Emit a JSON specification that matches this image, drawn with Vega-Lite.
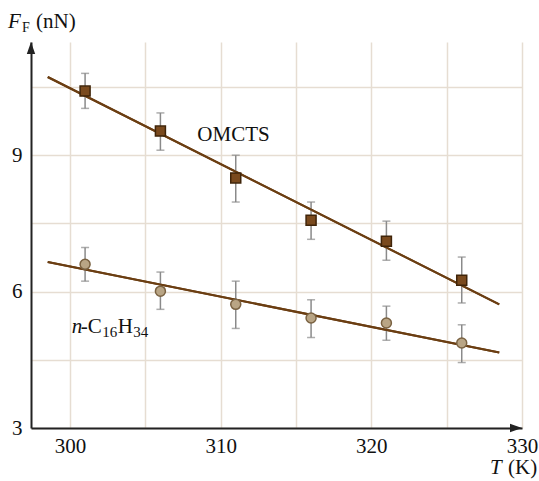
{
  "$schema": "https://vega.github.io/schema/vega-lite/v6.json",
  "width": 491,
  "height": 386,
  "autosize": {"type": "none"},
  "padding": {"left": 31, "top": 42, "right": 17, "bottom": 53},
  "background": "white",
  "config": {
    "view": {"stroke": null},
    "font": "Liberation Serif, Times New Roman, DejaVu Serif, serif",
    "text": {"font": "Liberation Serif, Times New Roman, DejaVu Serif, serif", "fontSize": 21, "color": "#111"}
  },
  "datasets": {
    "points": [
      {"series": "OMCTS", "T": 301, "F": 10.41, "lo": 10.03, "hi": 10.80},
      {"series": "OMCTS", "T": 306, "F": 9.53, "lo": 9.11, "hi": 9.93},
      {"series": "OMCTS", "T": 311, "F": 8.50, "lo": 7.97, "hi": 9.00},
      {"series": "OMCTS", "T": 316, "F": 7.57, "lo": 7.15, "hi": 7.97},
      {"series": "OMCTS", "T": 321, "F": 7.11, "lo": 6.69, "hi": 7.55},
      {"series": "OMCTS", "T": 326, "F": 6.25, "lo": 5.75, "hi": 6.76},
      {"series": "C16", "T": 301, "F": 6.60, "lo": 6.23, "hi": 6.97},
      {"series": "C16", "T": 306, "F": 6.01, "lo": 5.61, "hi": 6.43},
      {"series": "C16", "T": 311, "F": 5.72, "lo": 5.19, "hi": 6.23},
      {"series": "C16", "T": 316, "F": 5.42, "lo": 4.99, "hi": 5.82},
      {"series": "C16", "T": 321, "F": 5.31, "lo": 4.93, "hi": 5.68},
      {"series": "C16", "T": 326, "F": 4.87, "lo": 4.44, "hi": 5.27}
    ],
    "fits": [
      {"series": "OMCTS", "T": 298.52, "F": 10.72},
      {"series": "OMCTS", "T": 328.49, "F": 5.72},
      {"series": "C16", "T": 298.52, "F": 6.65},
      {"series": "C16", "T": 328.49, "F": 4.66}
    ],
    "one": [{}]
  },
  "layer": [
    {
      "data": {"name": "fits"},
      "mark": {"type": "line", "color": "#6b3e12", "strokeWidth": 2},
      "encoding": {
        "x": {
          "field": "T", "type": "quantitative",
          "scale": {"domain": [297.41, 330], "nice": false, "zero": false},
          "axis": {
            "values": [300, 305, 310, 315, 320, 325, 330],
            "labelExpr": "datum.value % 10 == 0 ? datum.label : ''",
            "title": null,
            "grid": true, "gridColor": "#e6ddd2", "gridWidth": 1.5,
            "ticks": false,
            "domainColor": "#222", "domainWidth": 2,
            "labelFont": "Liberation Serif, Times New Roman, DejaVu Serif, serif", "labelFontSize": 21, "labelColor": "#111",
            "labelPadding": 7, "labelFlush": false
          }
        },
        "y": {
          "field": "F", "type": "quantitative",
          "scale": {"domain": [3, 11.49], "nice": false, "zero": false},
          "axis": {
            "values": [3, 4.5, 6, 7.5, 9, 10.5],
            "labelExpr": "datum.value % 3 == 0 ? datum.label : ''",
            "title": null,
            "grid": true, "gridColor": "#e6ddd2", "gridWidth": 1.5,
            "ticks": false,
            "domainColor": "#222", "domainWidth": 2,
            "labelFont": "Liberation Serif, Times New Roman, DejaVu Serif, serif", "labelFontSize": 21, "labelColor": "#111",
            "labelPadding": 9, "labelFlush": false
          }
        },
        "detail": {"field": "series"}
      }
    },
    {
      "data": {"name": "points"},
      "mark": {"type": "rule", "color": "#8a8a8a", "strokeWidth": 1.5},
      "encoding": {
        "x": {"field": "T", "type": "quantitative"},
        "y": {"field": "lo", "type": "quantitative"},
        "y2": {"field": "hi"}
      }
    },
    {
      "data": {"name": "points"},
      "mark": {"type": "tick", "orient": "horizontal", "color": "#8a8a8a", "size": 8, "thickness": 1.5},
      "encoding": {
        "x": {"field": "T", "type": "quantitative"},
        "y": {"field": "lo", "type": "quantitative"}
      }
    },
    {
      "data": {"name": "points"},
      "mark": {"type": "tick", "orient": "horizontal", "color": "#8a8a8a", "size": 8, "thickness": 1.5},
      "encoding": {
        "x": {"field": "T", "type": "quantitative"},
        "y": {"field": "hi", "type": "quantitative"}
      }
    },
    {
      "data": {"name": "fits"},
      "mark": {"type": "line", "color": "#6b3e12", "strokeWidth": 2},
      "encoding": {
        "x": {"field": "T", "type": "quantitative"},
        "y": {"field": "F", "type": "quantitative"},
        "detail": {"field": "series"}
      }
    },
    {
      "data": {"name": "points"},
      "transform": [{"filter": "datum.series == 'OMCTS'"}],
      "mark": {"type": "point", "shape": "square", "filled": true, "size": 100, "color": "#7a4a1e", "stroke": "#3f2409", "strokeWidth": 1.5, "opacity": 1},
      "encoding": {
        "x": {"field": "T", "type": "quantitative"},
        "y": {"field": "F", "type": "quantitative"}
      }
    },
    {
      "data": {"name": "points"},
      "transform": [{"filter": "datum.series == 'C16'"}],
      "mark": {"type": "point", "shape": "circle", "filled": true, "size": 100, "color": "#b9a585", "stroke": "#7a6242", "strokeWidth": 1.5, "opacity": 1},
      "encoding": {
        "x": {"field": "T", "type": "quantitative"},
        "y": {"field": "F", "type": "quantitative"}
      }
    },
    {
      "data": {"name": "one"},
      "mark": {"type": "point", "shape": "M0,0L-0.35,1L0.35,1Z", "filled": true, "size": 576, "color": "#222", "opacity": 1},
      "encoding": {
        "x": {"datum": 297.41, "type": "quantitative"},
        "y": {"datum": 11.49, "type": "quantitative"}
      }
    },
    {
      "data": {"name": "one"},
      "mark": {"type": "point", "shape": "M0,0L-1,-0.35L-1,0.35Z", "filled": true, "size": 576, "color": "#222", "opacity": 1},
      "encoding": {
        "x": {"datum": 330, "type": "quantitative"},
        "y": {"datum": 3, "type": "quantitative"}
      }
    },
    {
      "data": {"name": "one"},
      "mark": {"type": "text", "align": "left", "baseline": "alphabetic", "fontSize": 21},
      "encoding": {
        "x": {"datum": 308.45, "type": "quantitative"},
        "y": {"datum": 9.315, "type": "quantitative"},
        "text": {"value": "OMCTS"}
      }
    },
    {
      "data": {"name": "one"},
      "mark": {"type": "text", "align": "left", "baseline": "alphabetic", "fontSize": 21, "fontStyle": "italic"},
      "encoding": {
        "x": {"datum": 300.11, "type": "quantitative"},
        "y": {"datum": 5.10, "type": "quantitative"},
        "text": {"value": "n"}
      }
    },
    {
      "data": {"name": "one"},
      "mark": {"type": "text", "align": "left", "baseline": "alphabetic", "fontSize": 21, "dx": 9},
      "encoding": {
        "x": {"datum": 300.11, "type": "quantitative"},
        "y": {"datum": 5.10, "type": "quantitative"},
        "text": {"value": "-C"}
      }
    },
    {
      "data": {"name": "one"},
      "mark": {"type": "text", "align": "left", "baseline": "alphabetic", "fontSize": 15, "dx": 30.5, "dy": 4},
      "encoding": {
        "x": {"datum": 300.11, "type": "quantitative"},
        "y": {"datum": 5.10, "type": "quantitative"},
        "text": {"value": "16"}
      }
    },
    {
      "data": {"name": "one"},
      "mark": {"type": "text", "align": "left", "baseline": "alphabetic", "fontSize": 21, "dx": 46},
      "encoding": {
        "x": {"datum": 300.11, "type": "quantitative"},
        "y": {"datum": 5.10, "type": "quantitative"},
        "text": {"value": "H"}
      }
    },
    {
      "data": {"name": "one"},
      "mark": {"type": "text", "align": "left", "baseline": "alphabetic", "fontSize": 15, "dx": 61.5, "dy": 4},
      "encoding": {
        "x": {"datum": 300.11, "type": "quantitative"},
        "y": {"datum": 5.10, "type": "quantitative"},
        "text": {"value": "34"}
      }
    },
    {
      "data": {"name": "one"},
      "mark": {"type": "text", "align": "left", "baseline": "alphabetic", "fontSize": 21, "fontStyle": "italic", "dx": -23},
      "encoding": {
        "x": {"datum": 297.41, "type": "quantitative"},
        "y": {"datum": 11.796, "type": "quantitative"},
        "text": {"value": "F"}
      }
    },
    {
      "data": {"name": "one"},
      "mark": {"type": "text", "align": "left", "baseline": "alphabetic", "fontSize": 14, "dx": -9, "dy": 4},
      "encoding": {
        "x": {"datum": 297.41, "type": "quantitative"},
        "y": {"datum": 11.796, "type": "quantitative"},
        "text": {"value": "F"}
      }
    },
    {
      "data": {"name": "one"},
      "mark": {"type": "text", "align": "left", "baseline": "alphabetic", "fontSize": 21, "dx": 5},
      "encoding": {
        "x": {"datum": 297.41, "type": "quantitative"},
        "y": {"datum": 11.796, "type": "quantitative"},
        "text": {"value": "(nN)"}
      }
    },
    {
      "data": {"name": "one"},
      "mark": {"type": "text", "align": "left", "baseline": "alphabetic", "fontSize": 21, "fontStyle": "italic", "dx": -32, "dy": 46},
      "encoding": {
        "x": {"datum": 330, "type": "quantitative"},
        "y": {"datum": 3, "type": "quantitative"},
        "text": {"value": "T"}
      }
    },
    {
      "data": {"name": "one"},
      "mark": {"type": "text", "align": "left", "baseline": "alphabetic", "fontSize": 21, "dx": -14, "dy": 46},
      "encoding": {
        "x": {"datum": 330, "type": "quantitative"},
        "y": {"datum": 3, "type": "quantitative"},
        "text": {"value": "(K)"}
      }
    }
  ]
}
